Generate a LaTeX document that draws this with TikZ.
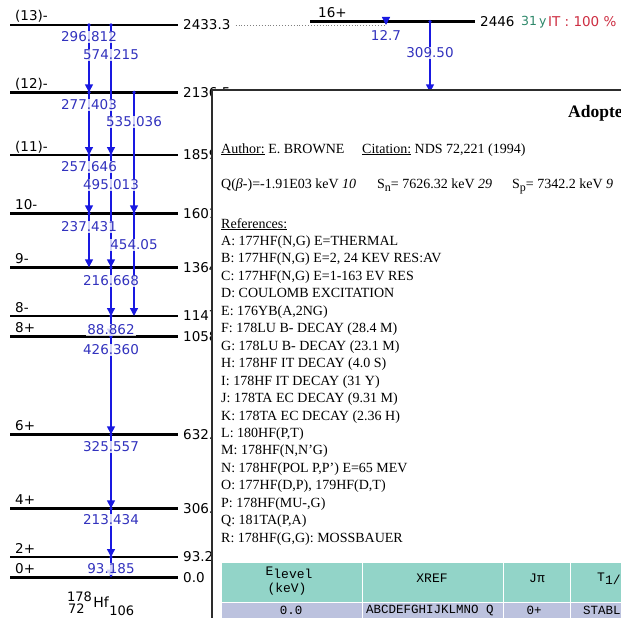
\documentclass[tikz,border=0pt]{standalone}
\usepackage{fontspec}
\setmainfont{Liberation Serif}
\setsansfont{DejaVu Sans}
\setmonofont{Liberation Mono}
\usetikzlibrary{arrows.meta}
\usepackage{xcolor}
\definecolor{gblue}{RGB}{25,25,225}
\definecolor{tblue}{RGB}{50,50,190}
\definecolor{boxgray}{RGB}{45,45,45}
\definecolor{hteal}{RGB}{146,212,200}
\definecolor{rlav}{RGB}{188,194,222}
\definecolor{tgreen}{RGB}{45,135,105}
\definecolor{tred}{RGB}{205,45,65}
% column/from/to/energy/label y
\newcommand\gammalist{c1/L13/L12/296.812/37, c2/L13/L11/574.215/55,
  c1/L12/L11/277.403/105, c3/L12/L10/535.036/122, c1/L11/L10/257.646/167,
  c2/L11/L9/495.013/185, c1/L10/L9/237.431/227, c3/L10/L8m/454.05/245,
  c2/L9/L8m/216.668/281, c2/L8m/L8p/88.862/330, c2/L8p/L6/426.360/350,
  c2/L6/L4/325.557/447, c2/L4/L2/213.434/520, c2/L2/L0/93.185/569,
  c4/L16/L13/12.7/35, c5/L16/L12/309.50/53}

\begin{document}
\begin{tikzpicture}[x=1pt, y=-1pt, font=\sffamily\fontsize{13.5}{15}\selectfont,
  lvl/.style={line width=2.7pt},
  gam/.style={draw=gblue, line width=1.4pt, -{Triangle[width=8pt,length=8pt]}},
  glbl/.style={tblue, fill=white, fill opacity=.8, text opacity=1, inner sep=1pt},
  jpi/.style={anchor=base west, inner sep=0pt},
  enl/.style={anchor=west, inner sep=0pt},
  nuc/.style={anchor=base west, inner sep=0pt, font=\sffamily\fontsize{13}{14}\selectfont},
  reftxt/.style={anchor=base west, inner sep=0pt, font=\rmfamily\fontsize{14}{17}\selectfont},
  cell/.style={inner sep=0pt, font=\ttfamily\fontsize{12.5}{14}\selectfont}]
  \useasboundingbox (0,0) rectangle (621,618);
  \clip (0,0) rectangle (621,618);

  % levels
  \foreach \nm/\y/\jp/\en in {L13/25/{(13)-}/2433.3, L12/92.3/{(12)-}/2136.5,
    L11/155/{(11)-}/1859.2, L10/213.3/10-/1601.5, L9/267.3/9-/1364.1,
    L8m/316/8-/1147.4, L8p/336.7/8+/1058.6, L6/434.3/6+/632.2,
    L4/508.3/4+/306.6, L2/557/2+/93.2, L0/577.7/0+/0.0}{
    \coordinate (\nm) at (0,\y);
    \draw[lvl] (10,\y) -- (178,\y);
    \node[jpi] (\nm j) at (15,\y-4) {\jp};
    \node[enl] (\nm e) at (183,\y) {\en};
  }
  \coordinate (L16) at (0,21.7);
  \draw[lvl] (310,21.7) -- (475,21.7);
  \node[jpi] (L16j) at (318,18) {16+};
  \node[enl] (L16e) at (480,21.7) {2446};
  \node[enl, tgreen, font=\sffamily\fontsize{12.5}{14}\selectfont] (L16t) at (521,21.7) {31\,y};
  \node[enl, tred] (L16m) at (548,21.7) {IT : 100 \%};
  \draw[gray, dotted, line width=.9pt] ([xshift=5pt]L13e.east) -- (386,25);

  % gammas
  \coordinate (c1) at (89,0);
  \coordinate (c2) at (111,0);
  \coordinate (c3) at (134,0);
  \coordinate (c4) at (386,0);
  \coordinate (c5) at (430,0);
  \foreach \c/\a/\b/\lbl/\ly in \gammalist{
    \fill[gblue] (\c|-\a) circle (1.8pt);
    \draw[gam] (\c|-\a) -- (\c|-\b);
  }
  \foreach \c/\a/\b/\lbl/\ly [count=\k] in \gammalist
    \node[glbl] (g\k) at (\c|-0,\ly) {\lbl};

  % nuclide
  \node[nuc] (nA) at (67,601) {178};
  \node[nuc] (nZ) at (68,613) {72};
  \node[nuc, font=\sffamily\fontsize{14}{15}\selectfont] (nHf) at (nA.base east) [anchor=base west, xshift=1pt, yshift=-6pt] {Hf};
  \node[nuc] (nN) at (nHf.base east) [anchor=base west, yshift=-8.5pt] {106};

  % popup window
  \draw[boxgray, line width=2.2pt, fill=white] (212,90) rectangle (660,660);
  \node[reftxt, font=\rmfamily\bfseries\fontsize{17.5}{20}\selectfont] (title) at (568,117) {Adopted Levels, Gammas};
  \node[reftxt] (auth) at (221,153) {\underline{Author:} E. BROWNE};
  \node[reftxt] (cite) at (362,153) {\underline{Citation:} NDS 72,221 (1994)};
  \node[reftxt] (qb) at (221,188) {Q(\textit{β}-)=-1.91E03 keV \textit{10}};
  \node[reftxt] (sn) at (377,188) {S\raisebox{-.5ex}{\fontsize{12}{12}\selectfont n}= 7626.32 keV \textit{29}};
  \node[reftxt] (sp) at (512,188) {S\raisebox{-.5ex}{\fontsize{12}{12}\selectfont p}= 7342.2 keV \textit{9}};
  \node[reftxt] (refs) at (221,228) {\underline{References:}};
  \foreach \r [count=\i from 0] in {{A: 177HF(N,G) E=THERMAL}, {B: 177HF(N,G) E=2, 24 KEV RES:AV},
    {C: 177HF(N,G) E=1-163 EV RES}, {D: COULOMB EXCITATION}, {E: 176YB(A,2NG)},
    {F: 178LU B- DECAY (28.4 M)}, {G: 178LU B- DECAY (23.1 M)}, {H: 178HF IT DECAY (4.0 S)},
    {I: 178HF IT DECAY (31 Y)}, {J: 178TA EC DECAY (9.31 M)}, {K: 178TA EC DECAY (2.36 H)},
    {L: 180HF(P,T)}, {M: 178HF(N,N'G)}, {N: 178HF(POL P,P') E=65 MEV},
    {O: 177HF(D,P), 179HF(D,T)}, {P: 178HF(MU-,G)}, {Q: 181TA(P,A)},
    {R: 178HF(G,G): MOSSBAUER}}
    \node[reftxt] (ref\i) at (221,245.5+\i*17.45) {\r};

  % table
  \foreach \xa/\xb in {222/361.5, 363/502.5, 504/569.5, 571/660}{
    \fill[hteal] (\xa,563) rectangle (\xb,601.5);
    \fill[rlav] (\xa,603) rectangle (\xb,660);
  }
  \node[cell, anchor=base, font=\ttfamily\fontsize{13}{14}\selectfont] (h1) at (289,575.5) {E\raisebox{-.5ex}{level}};
  \node[cell, anchor=base, font=\ttfamily\fontsize{13}{14}\selectfont] (h1b) at (287,592) {(keV)};
  \node[cell, font=\ttfamily\fontsize{13}{14}\selectfont] (h2) at (432,578) {XREF};
  \node[cell, font=\ttfamily\fontsize{13}{14}\selectfont] (h3) at (537,578) {Jπ};
  \node[cell, anchor=base west, font=\ttfamily\fontsize{13}{14}\selectfont] (h4) at (597,581) {T\raisebox{-.5ex}{1/2}};
  \node[cell] (r1) at (291,610) {0.0};
  \node[cell] (r2) at (430,610) {ABCDEFGHIJKLMNO Q};
  \node[cell] (r3) at (534,610) {0+};
  \node[cell, anchor=west] (r4) at (583,610) {STABLE};
\end{tikzpicture}
\end{document}
